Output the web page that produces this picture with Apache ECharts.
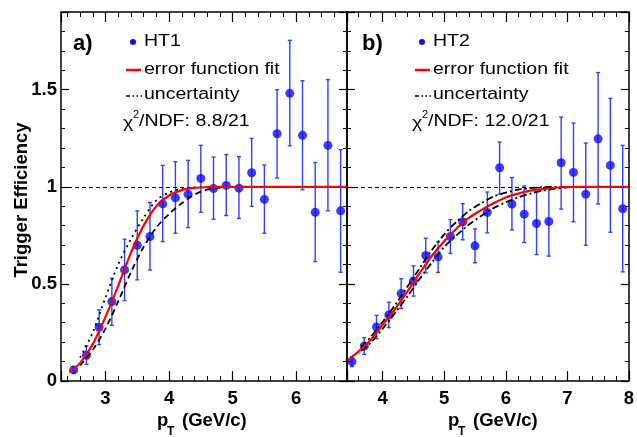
<!DOCTYPE html>
<html>
<head>
<meta charset="utf-8">
<script src="https://cdn.jsdelivr.net/npm/echarts@6/dist/echarts.min.js"></script>
<style>
  html, body { margin: 0; padding: 0; background: #fff; }
  #main { width: 637px; height: 437px; }
</style>
</head>
<body>
<div id="main"></div>
<script>
// HT1 / HT2 trigger efficiency
var ht1X  = [2.5, 2.7, 2.9, 3.1, 3.3, 3.5, 3.7, 3.9, 4.1, 4.3, 4.5, 4.7, 4.9, 5.1, 5.3, 5.5, 5.7, 5.9, 6.1, 6.3, 6.5, 6.7];
var ht1Y  = [0.057, 0.132, 0.277, 0.409, 0.572, 0.699, 0.744, 0.912, 0.943, 0.962, 1.043, 0.991, 1.007, 0.993, 1.072, 0.935, 1.273, 1.481, 1.265, 0.869, 1.213, 0.876];
var ht1Lo = [0.040, 0.086, 0.187, 0.287, 0.414, 0.521, 0.571, 0.718, 0.761, 0.790, 0.869, 0.833, 0.852, 0.837, 0.899, 0.761, 1.045, 1.211, 0.985, 0.615, 0.876, 0.560];
var ht1Hi = [0.074, 0.180, 0.366, 0.529, 0.730, 0.876, 0.919, 1.110, 1.129, 1.136, 1.213, 1.153, 1.166, 1.155, 1.249, 1.112, 1.500, 1.754, 1.546, 1.125, 1.552, 1.191];

var ht2X  = [3.5, 3.7, 3.9, 4.1, 4.3, 4.5, 4.7, 4.9, 5.1, 5.3, 5.5, 5.7, 5.9, 6.1, 6.3, 6.5, 6.7, 6.9, 7.1, 7.3, 7.5, 7.7, 7.9];
var ht2Y  = [0.100, 0.180, 0.278, 0.340, 0.450, 0.515, 0.646, 0.639, 0.744, 0.820, 0.696, 0.868, 1.098, 0.911, 0.859, 0.811, 0.821, 1.124, 1.074, 0.962, 1.247, 1.110, 0.887];
var ht2Lo = [0.074, 0.137, 0.218, 0.275, 0.373, 0.437, 0.557, 0.559, 0.657, 0.727, 0.609, 0.763, 0.962, 0.778, 0.713, 0.651, 0.643, 0.885, 0.820, 0.699, 0.911, 0.766, 0.562];
var ht2Hi = [0.126, 0.223, 0.338, 0.405, 0.527, 0.593, 0.735, 0.716, 0.831, 0.913, 0.783, 0.973, 1.230, 1.048, 1.004, 0.976, 0.999, 1.359, 1.328, 1.225, 1.588, 1.455, 1.213];

// fit curves and uncertainty bands
var fit1X = [2.43, 2.6, 2.8, 3.0, 3.2, 3.4, 3.6, 3.8, 4.0, 4.2, 4.4, 4.6, 4.8, 5.0, 6.8];
var fit1Y = [0.045, 0.092, 0.19, 0.33, 0.49, 0.66, 0.80, 0.90, 0.955, 0.983, 0.994, 0.998, 1.0, 1.0, 1.0];
var up1X  = [2.6, 2.8, 3.0, 3.2, 3.4, 3.6, 3.8, 4.0, 4.2, 4.4, 4.6, 5.5];
var up1Y  = [0.12, 0.25, 0.43, 0.60, 0.73, 0.84, 0.93, 0.97, 0.99, 0.997, 1.0, 1.0];
var lo1X  = [2.6, 2.8, 3.0, 3.2, 3.4, 3.6, 3.8, 4.0, 4.2, 4.4, 4.6, 4.8, 5.0, 5.5];
var lo1Y  = [0.08, 0.16, 0.27, 0.41, 0.56, 0.69, 0.79, 0.86, 0.915, 0.96, 0.985, 0.995, 1.0, 1.0];

var fit2X = [3.44, 3.6, 3.8, 4.0, 4.2, 4.4, 4.6, 4.8, 5.0, 5.2, 5.4, 5.6, 5.8, 6.0, 6.2, 6.4, 6.6, 6.8, 7.0, 7.2, 8.0];
var fit2Y = [0.108, 0.15, 0.21, 0.29, 0.37, 0.46, 0.555, 0.645, 0.72, 0.785, 0.84, 0.88, 0.915, 0.945, 0.965, 0.98, 0.988, 0.995, 0.999, 1.0, 1.0];
var up2X  = [3.65, 3.8, 4.0, 4.2, 4.4, 4.6, 4.8, 5.0, 5.2, 5.4, 5.6, 5.8, 6.0, 6.2, 6.4, 6.6, 6.8, 7.0];
var up2Y  = [0.175, 0.225, 0.305, 0.39, 0.485, 0.58, 0.675, 0.755, 0.82, 0.875, 0.915, 0.95, 0.97, 0.985, 0.993, 0.998, 1.0, 1.0];
var lo2X  = [3.65, 3.8, 4.0, 4.2, 4.4, 4.6, 4.8, 5.0, 5.2, 5.4, 5.6, 5.8, 6.0, 6.2, 6.4, 6.6, 6.8, 7.0, 7.2];
var lo2Y  = [0.155, 0.195, 0.27, 0.35, 0.435, 0.525, 0.61, 0.69, 0.75, 0.805, 0.85, 0.89, 0.92, 0.945, 0.965, 0.98, 0.99, 0.997, 1.0];

var xRange1 = [2.3, 6.8];
var xRange2 = [3.42, 8.0];
var yRange  = [0, 1.9];

var font = "'Liberation Sans', Arial, Helvetica, sans-serif";
var blue = '#0a0aff';
var barBlue = '#3040ff';

function zip(a, b) {
    return a.map(function (v, i) { return [v, b[i]]; });
}
function zip3(a, b, c) {
    return a.map(function (v, i) { return [v, b[i], c[i]]; });
}

function xAxis(grid, pos, range, labels) {
    return {
        type: 'value', gridIndex: grid, position: pos,
        min: range[0], max: range[1],
        axisLine: { show: true, onZero: false, lineStyle: { color: '#000', width: 1.5 } },
        axisTick: { show: true, inside: true, length: 10, lineStyle: { color: '#000', width: 1.2 } },
        minorTick: { show: true, splitNumber: 5, length: 5, lineStyle: { color: '#000', width: 1 } },
        splitLine: { show: false },
        axisLabel: {
            show: labels, margin: 8, color: '#000',
            fontFamily: font, fontWeight: 'bold', fontSize: 18.5,
            alignMaxLabel: 'center', alignMinLabel: 'center',
            formatter: function (v) {
                return Math.abs(v - Math.round(v)) < 1e-6 ? String(Math.round(v)) : '';
            }
        }
    };
}

function yAxis(grid, pos, labels) {
    return {
        type: 'value', gridIndex: grid, position: pos,
        min: yRange[0], max: yRange[1], interval: 0.5,
        axisLine: { show: true, onZero: false, lineStyle: { color: '#000', width: 1.5 } },
        axisTick: { show: true, inside: true, length: 8, lineStyle: { color: '#000', width: 1.2 } },
        minorTick: { show: true, splitNumber: 5, length: 4, lineStyle: { color: '#000', width: 1 } },
        splitLine: { show: false },
        axisLabel: {
            show: labels, margin: 4, color: '#000',
            fontFamily: font, fontWeight: 'bold', fontSize: 18.5,
            formatter: function (v) {
                return Math.abs(v * 2 - Math.round(v * 2)) < 1e-6 ? String(v) : '';
            }
        }
    };
}

// vertical error bar with small caps
function errorBar(params, api) {
    var x = api.value(0);
    var lo = api.coord([x, api.value(1)]);
    var hi = api.coord([x, api.value(2)]);
    var cap = 2;
    var st = { stroke: barBlue, lineWidth: 1.4 };
    return {
        type: 'group',
        children: [
            { type: 'line', shape: { x1: lo[0], y1: lo[1], x2: hi[0], y2: hi[1] }, style: st },
            { type: 'line', shape: { x1: lo[0] - cap, y1: lo[1], x2: lo[0] + cap, y2: lo[1] }, style: st },
            { type: 'line', shape: { x1: hi[0] - cap, y1: hi[1], x2: hi[0] + cap, y2: hi[1] }, style: st }
        ]
    };
}

function curve(ax, xs, ys, color, width, dash, z) {
    return {
        type: 'line', xAxisIndex: ax, yAxisIndex: ax, z: z,
        smooth: 0.3, showSymbol: false, symbol: 'none',
        lineStyle: { color: color, width: width, type: dash },
        data: zip(xs, ys)
    };
}

function panelSeries(ax, px, py, plo, phi, fx, fy, ux, uy, lx, ly, upDash, loDash) {
    var fit = curve(ax, fx, fy, '#ff0000', 2.2, 'solid', 5);
    fit.markLine = {
        silent: true, symbol: 'none', label: { show: false },
        lineStyle: { color: '#000', width: 1, type: [4, 3] },
        data: [{ yAxis: 1 }]
    };
    return [
        {
            type: 'custom', xAxisIndex: ax, yAxisIndex: ax, z: 2,
            renderItem: errorBar, data: zip3(px, plo, phi)
        },
        {
            type: 'scatter', xAxisIndex: ax, yAxisIndex: ax, z: 3,
            symbol: 'circle', symbolSize: 9, itemStyle: { color: blue },
            data: zip(px, py)
        },
        curve(ax, ux, uy, '#000', 1.8, upDash, 4),
        curve(ax, lx, ly, '#000', 1.8, loDash, 4),
        fit
    ];
}

var legendScale = 1.22;

function txt(x, y, s, size, weight, extra) {
    var o = {
        type: 'text', x: x, y: y, z: 10,
        style: {
            text: s, fill: '#000',
            font: (weight || 'normal') + ' ' + size + 'px ' + font,
            verticalAlign: 'middle', align: 'left'
        }
    };
    if (extra) { for (var k in extra) { o[k] = extra[k]; } }
    return o;
}

function legend(dx, tag, name, chi, dash) {
    var sx = { scaleX: legendScale };
    return [
        txt(73 + dx, 44, tag, 22, 'bold'),
        { type: 'circle', z: 10, shape: { cx: 133 + dx, cy: 42, r: 3 }, style: { fill: blue } },
        txt(144 + dx, 42, name, 16, 'normal', sx),
        { type: 'line', z: 10, shape: { x1: 126 + dx, y1: 70, x2: 141 + dx, y2: 70 },
          style: { stroke: '#ff0000', lineWidth: 2.5 } },
        txt(144 + dx, 70, 'error function fit', 16, 'normal', sx),
        { type: 'line', z: 10, shape: { x1: 126 + dx, y1: 96, x2: 142 + dx, y2: 96 },
          style: { stroke: '#000', lineWidth: 1.6, lineDash: dash } },
        txt(144 + dx, 95, 'uncertainty', 16, 'normal', sx),
        txt(123 + dx, 124, '\u03c7', 16, 'normal', sx),
        txt(133 + dx, 115, '2', 11, 'normal'),
        txt(139 + dx, 122, '/NDF: ' + chi, 16, 'normal', sx)
    ];
}

function xTitle(cx) {
    return [
        txt(cx - 47, 421, 'p', 18.5, 'bold'),
        txt(cx - 37, 432, 'T', 12, 'bold'),
        txt(cx - 22, 421, '(GeV/c)', 18.5, 'bold')
    ];
}

var chart = echarts.init(document.getElementById('main'));

var option = {
    animation: false,
    backgroundColor: '#fff',
    grid: [
        { left: 61, top: 12, width: 286, height: 369 },
        { left: 347, top: 12, width: 288, height: 369 }
    ],
    xAxis: [
        xAxis(0, 'bottom', xRange1, true),
        xAxis(0, 'top', xRange1, false),
        xAxis(1, 'bottom', xRange2, true),
        xAxis(1, 'top', xRange2, false)
    ],
    yAxis: [
        yAxis(0, 'left', true),
        yAxis(0, 'right', false),
        yAxis(1, 'left', false),
        yAxis(1, 'right', false)
    ],
    graphic: [].concat(
        legend(0, 'a)', 'HT1', '8.8/21', [4, 2.5, 1.5, 2.5, 1.5, 2.5]),
        legend(289, 'b)', 'HT2', '12.0/21', [4, 2.5, 1.5, 2.5, 1.5, 2.5]),
        xTitle(204),
        xTitle(495),
        [{
            type: 'text', x: 22, y: 200, rotation: Math.PI / 2, z: 10,
            style: {
                text: 'Trigger Efficiency', fill: '#000',
                font: 'bold 18.5px ' + font, align: 'center', verticalAlign: 'middle'
            }
        }]
    ),
    series: [].concat(
        panelSeries(0, ht1X, ht1Y, ht1Lo, ht1Hi, fit1X, fit1Y, up1X, up1Y, lo1X, lo1Y, [2, 4], [6, 4]),
        panelSeries(2, ht2X, ht2Y, ht2Lo, ht2Hi, fit2X, fit2Y, up2X, up2Y, lo2X, lo2Y, [7, 3, 2, 3], [7, 3, 2, 3])
    )
};

chart.setOption(option);
</script>
</body>
</html>
